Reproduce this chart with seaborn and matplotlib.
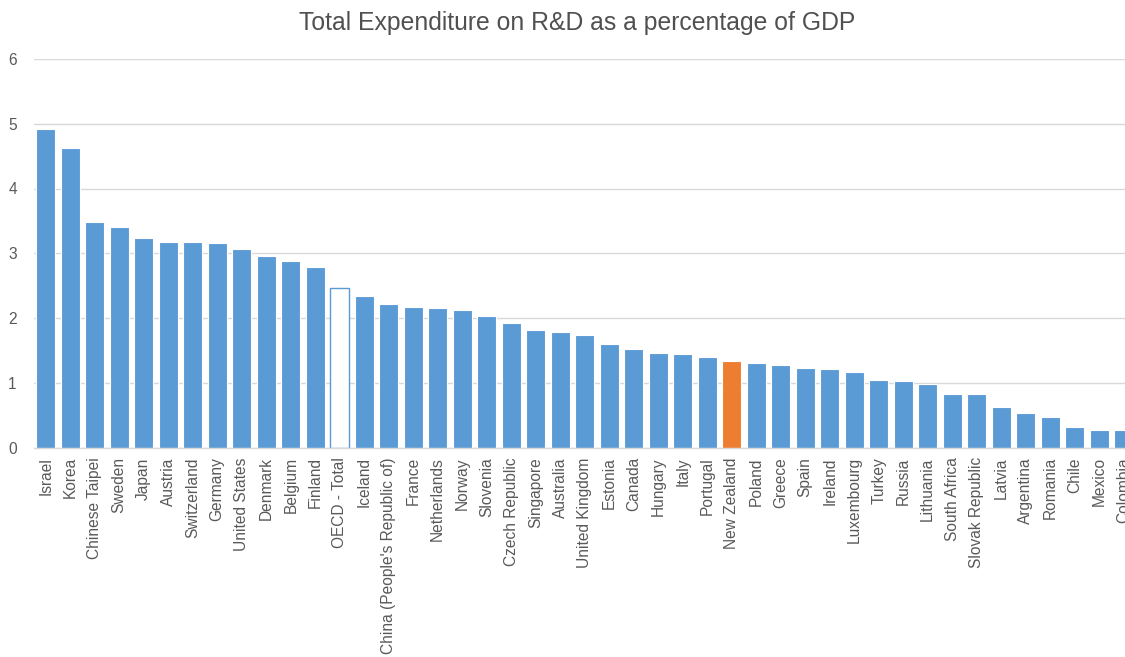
import matplotlib
matplotlib.use("Agg")
import matplotlib.pyplot as plt
import seaborn as sns
import pandas as pd

countries = ["Israel", "Korea", "Chinese Taipei", "Sweden", "Japan", "Austria", "Switzerland",
             "Germany", "United States", "Denmark", "Belgium", "Finland", "OECD - Total", "Iceland",
             "China (People's Republic of)", "France", "Netherlands", "Norway", "Slovenia",
             "Czech Republic", "Singapore", "Australia", "United Kingdom", "Estonia", "Canada",
             "Hungary", "Italy", "Portugal", "New Zealand", "Poland", "Greece", "Spain", "Ireland",
             "Luxembourg", "Turkey", "Russia", "Lithuania", "South Africa", "Slovak Republic",
             "Latvia", "Argentina", "Romania", "Chile", "Mexico", "Colombia"]
values = [4.92, 4.63, 3.48, 3.40, 3.24, 3.18, 3.18, 3.16, 3.06, 2.95, 2.88, 2.79, 2.47, 2.34,
          2.22, 2.17, 2.15, 2.13, 2.03, 1.93, 1.82, 1.78, 1.74, 1.60, 1.52, 1.46, 1.44, 1.39,
          1.33, 1.31, 1.27, 1.23, 1.21, 1.16, 1.04, 1.02, 0.98, 0.82, 0.82, 0.63, 0.53, 0.47,
          0.32, 0.27, 0.27]
title = "Total Expenditure on R&D as a percentage of GDP"

BLUE = "#5B9BD5"
ORANGE = "#ED7D31"
colors = {c: BLUE for c in countries}
colors["New Zealand"] = ORANGE
colors["OECD - Total"] = "white"

df = pd.DataFrame({"country": countries, "value": values})

sns.set_style("white")
plt.rcParams['font.family'] = ['Liberation Sans', 'DejaVu Sans']

fig = plt.figure(figsize=(11.25, 6.57), dpi=100)
ax = fig.add_axes([33.5 / 1125, 209.5 / 657, (1136 - 33.5) / 1125, (598 - 209.5) / 657])

sns.barplot(data=df, x="country", y="value", hue="country", palette=colors, dodge=False,
            width=0.78, legend=False, ax=ax, saturation=1, edgecolor="white", linewidth=0.8)

for p, c in zip(ax.patches, countries):
    if c == "OECD - Total":
        p.set_edgecolor(BLUE)
        p.set_linewidth(1.0)

ax.set_ylim(0, 6)
ax.set_xlim(-0.5, len(countries) - 0.5)
ax.set_yticks(range(0, 7))
ax.yaxis.grid(True, color="#D9D9D9", linewidth=1.0)
ax.set_axisbelow(True)
for s in ["top", "right", "left"]:
    ax.spines[s].set_visible(False)
ax.spines["bottom"].set_color("#D9D9D9")
ax.spines["bottom"].set_linewidth(1.0)
ax.set_xlabel("")
ax.set_ylabel("")
ax.tick_params(axis="both", length=0, colors="#595959", labelsize=11.2)
ax.tick_params(axis="y", pad=12)
ax.tick_params(axis="x", pad=7)
plt.setp(ax.get_xticklabels(), rotation=90)

fig.text(577 / 1125, 1 - 23 / 657, title, ha="center", va="center", fontsize=17.8, color="#505050")

fig.savefig("out.png", dpi=100)
